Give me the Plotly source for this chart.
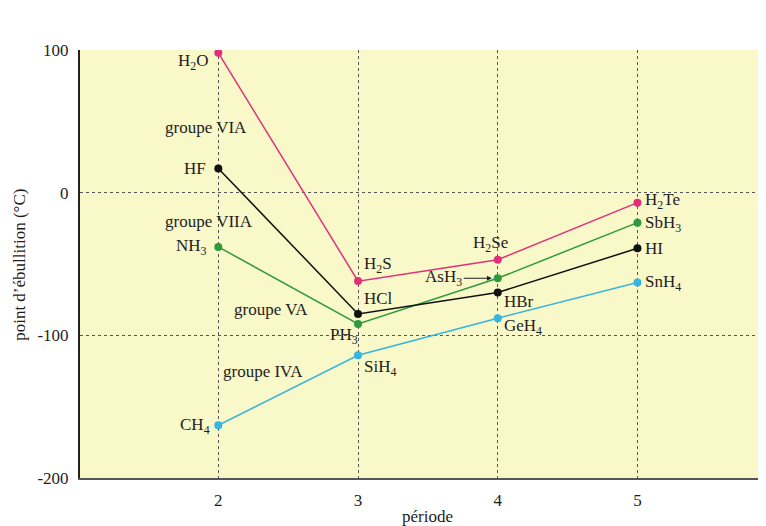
import plotly.graph_objects as go

periods = [2, 3, 4, 5]
grp_VIA = [98, -62, -47, -7]
grp_VIIA = [17, -85, -70, -39]
grp_VA = [-38, -92, -60, -21]
grp_IVA = [-163, -114, -88, -63]

names_VIA = ["H<sub>2</sub>O", "H<sub>2</sub>S", "H<sub>2</sub>Se", "H<sub>2</sub>Te"]
names_VIIA = ["HF", "HCl", "HBr", "HI"]
names_VA = ["NH<sub>3</sub>", "PH<sub>3</sub>", "AsH<sub>3</sub>", "SbH<sub>3</sub>"]
names_IVA = ["CH<sub>4</sub>", "SiH<sub>4</sub>", "GeH<sub>4</sub>", "SnH<sub>4</sub>"]

y_ticks = [100, 0, -100, -200]
y_tick_text = ["100", "0", "-100", "-200"]
x_ticks = [2, 3, 4, 5]

colors = {"VIA": "#e0307a", "VIIA": "#111111", "VA": "#2e9a3c", "IVA": "#35b5e0"}

FONT = "Liberation Serif"
FS = 17
TXT = "#1e1e1e"

fig = go.Figure()
for key, vals in [("IVA", grp_IVA), ("VA", grp_VA), ("VIIA", grp_VIIA), ("VIA", grp_VIA)]:
    fig.add_trace(go.Scatter(
        x=periods, y=vals, mode="lines+markers",
        line=dict(color=colors[key], width=1.5),
        marker=dict(color=colors[key], size=8),
        showlegend=False, name="groupe " + key,
    ))

ann = []
def lab(x, y, text, xs, ys, xa):
    ann.append(dict(x=x, y=y, text=text, showarrow=False, xshift=xs, yshift=ys,
                    xanchor=xa, yanchor="middle", font=dict(size=FS, color=TXT, family=FONT)))

# period 2 labels (left of points)
lab(2, grp_VIA[0], names_VIA[0], -7, -9, "right")
lab(2, grp_VIIA[0], names_VIIA[0], -10, 0, "right")
lab(2, grp_VA[0], names_VA[0], -9, 0, "right")
lab(2, grp_IVA[0], names_IVA[0], -6, -1, "right")
# period 3
lab(3, grp_VIA[1], names_VIA[1], 4, 16, "left")
lab(3, grp_VIIA[1], names_VIIA[1], 4, 15, "left")
lab(3, grp_VA[1], names_VA[1], 2, -12, "right")
lab(3, grp_IVA[1], names_IVA[1], 4, -13, "left")
# period 4
lab(4, grp_VIA[2], names_VIA[2], -7, 16, "center")
lab(4, grp_VIIA[2], names_VIIA[2], 4, -9, "left")
lab(4, grp_IVA[2], names_IVA[2], 4, -9, "left")
# period 5
for nm, vals, ys in [(names_VIA[3], grp_VIA, 2), (names_VA[3], grp_VA, -1),
                     (names_VIIA[3], grp_VIIA, 0), (names_IVA[3], grp_IVA, 0)]:
    lab(5, vals[3], nm, 6, ys, "left")

# AsH3 with arrow
ann.append(dict(x=4, y=grp_VA[2], ax=-30, ay=0, xshift=-4, text=names_VA[2], showarrow=True,
                arrowhead=2, arrowsize=0.8, arrowwidth=1.2, arrowcolor=TXT, standoff=2,
                xanchor="right", font=dict(size=FS, color=TXT, family=FONT)))

# group labels
groups = [("groupe VIA", 1.914, 46), ("groupe VIIA", 1.936, -20),
          ("groupe VA", 2.38, -82), ("groupe IVA", 2.32, -125)]
for t, gx, gy in groups:
    ann.append(dict(x=gx, y=gy, text=t, showarrow=False, xanchor="center", yanchor="middle",
                    font=dict(size=FS, color=TXT, family=FONT)))

# axis titles
ann.append(dict(x=-0.0875, y=0.498, xref="paper", yref="paper", text="point d’ébullition (°C)",
                textangle=-90, showarrow=False, xanchor="center", yanchor="middle",
                font=dict(size=FS, color=TXT, family=FONT)))
ann.append(dict(x=0.507, y=-0.089, xref="paper", yref="paper", text="période",
                showarrow=False, xanchor="center", yanchor="middle",
                font=dict(size=FS, color=TXT, family=FONT)))

fig.update_layout(
    width=766, height=526,
    margin=dict(l=72, r=8, t=42, b=56),
    paper_bgcolor="white", plot_bgcolor="#f9f8c8",
    font=dict(family=FONT, size=FS, color=TXT),
    annotations=ann,
)
fig.update_xaxes(range=[1.01, 5.92], tickvals=x_ticks, ticktext=[str(v) for v in x_ticks],
                 showgrid=True, gridcolor="#555", gridwidth=1, griddash="dot",
                 zeroline=False, showline=True, linecolor="#555", linewidth=2, ticks="", ticklabelstandoff=6)
fig.update_yaxes(range=[-200, 100], tickvals=y_ticks, ticktext=y_tick_text,
                 showgrid=True, gridcolor="#555", gridwidth=1, griddash="dot",
                 zeroline=False, showline=True, linecolor="#222", linewidth=2, ticks="", ticklabelstandoff=6)

fig.write_html("out.html")
